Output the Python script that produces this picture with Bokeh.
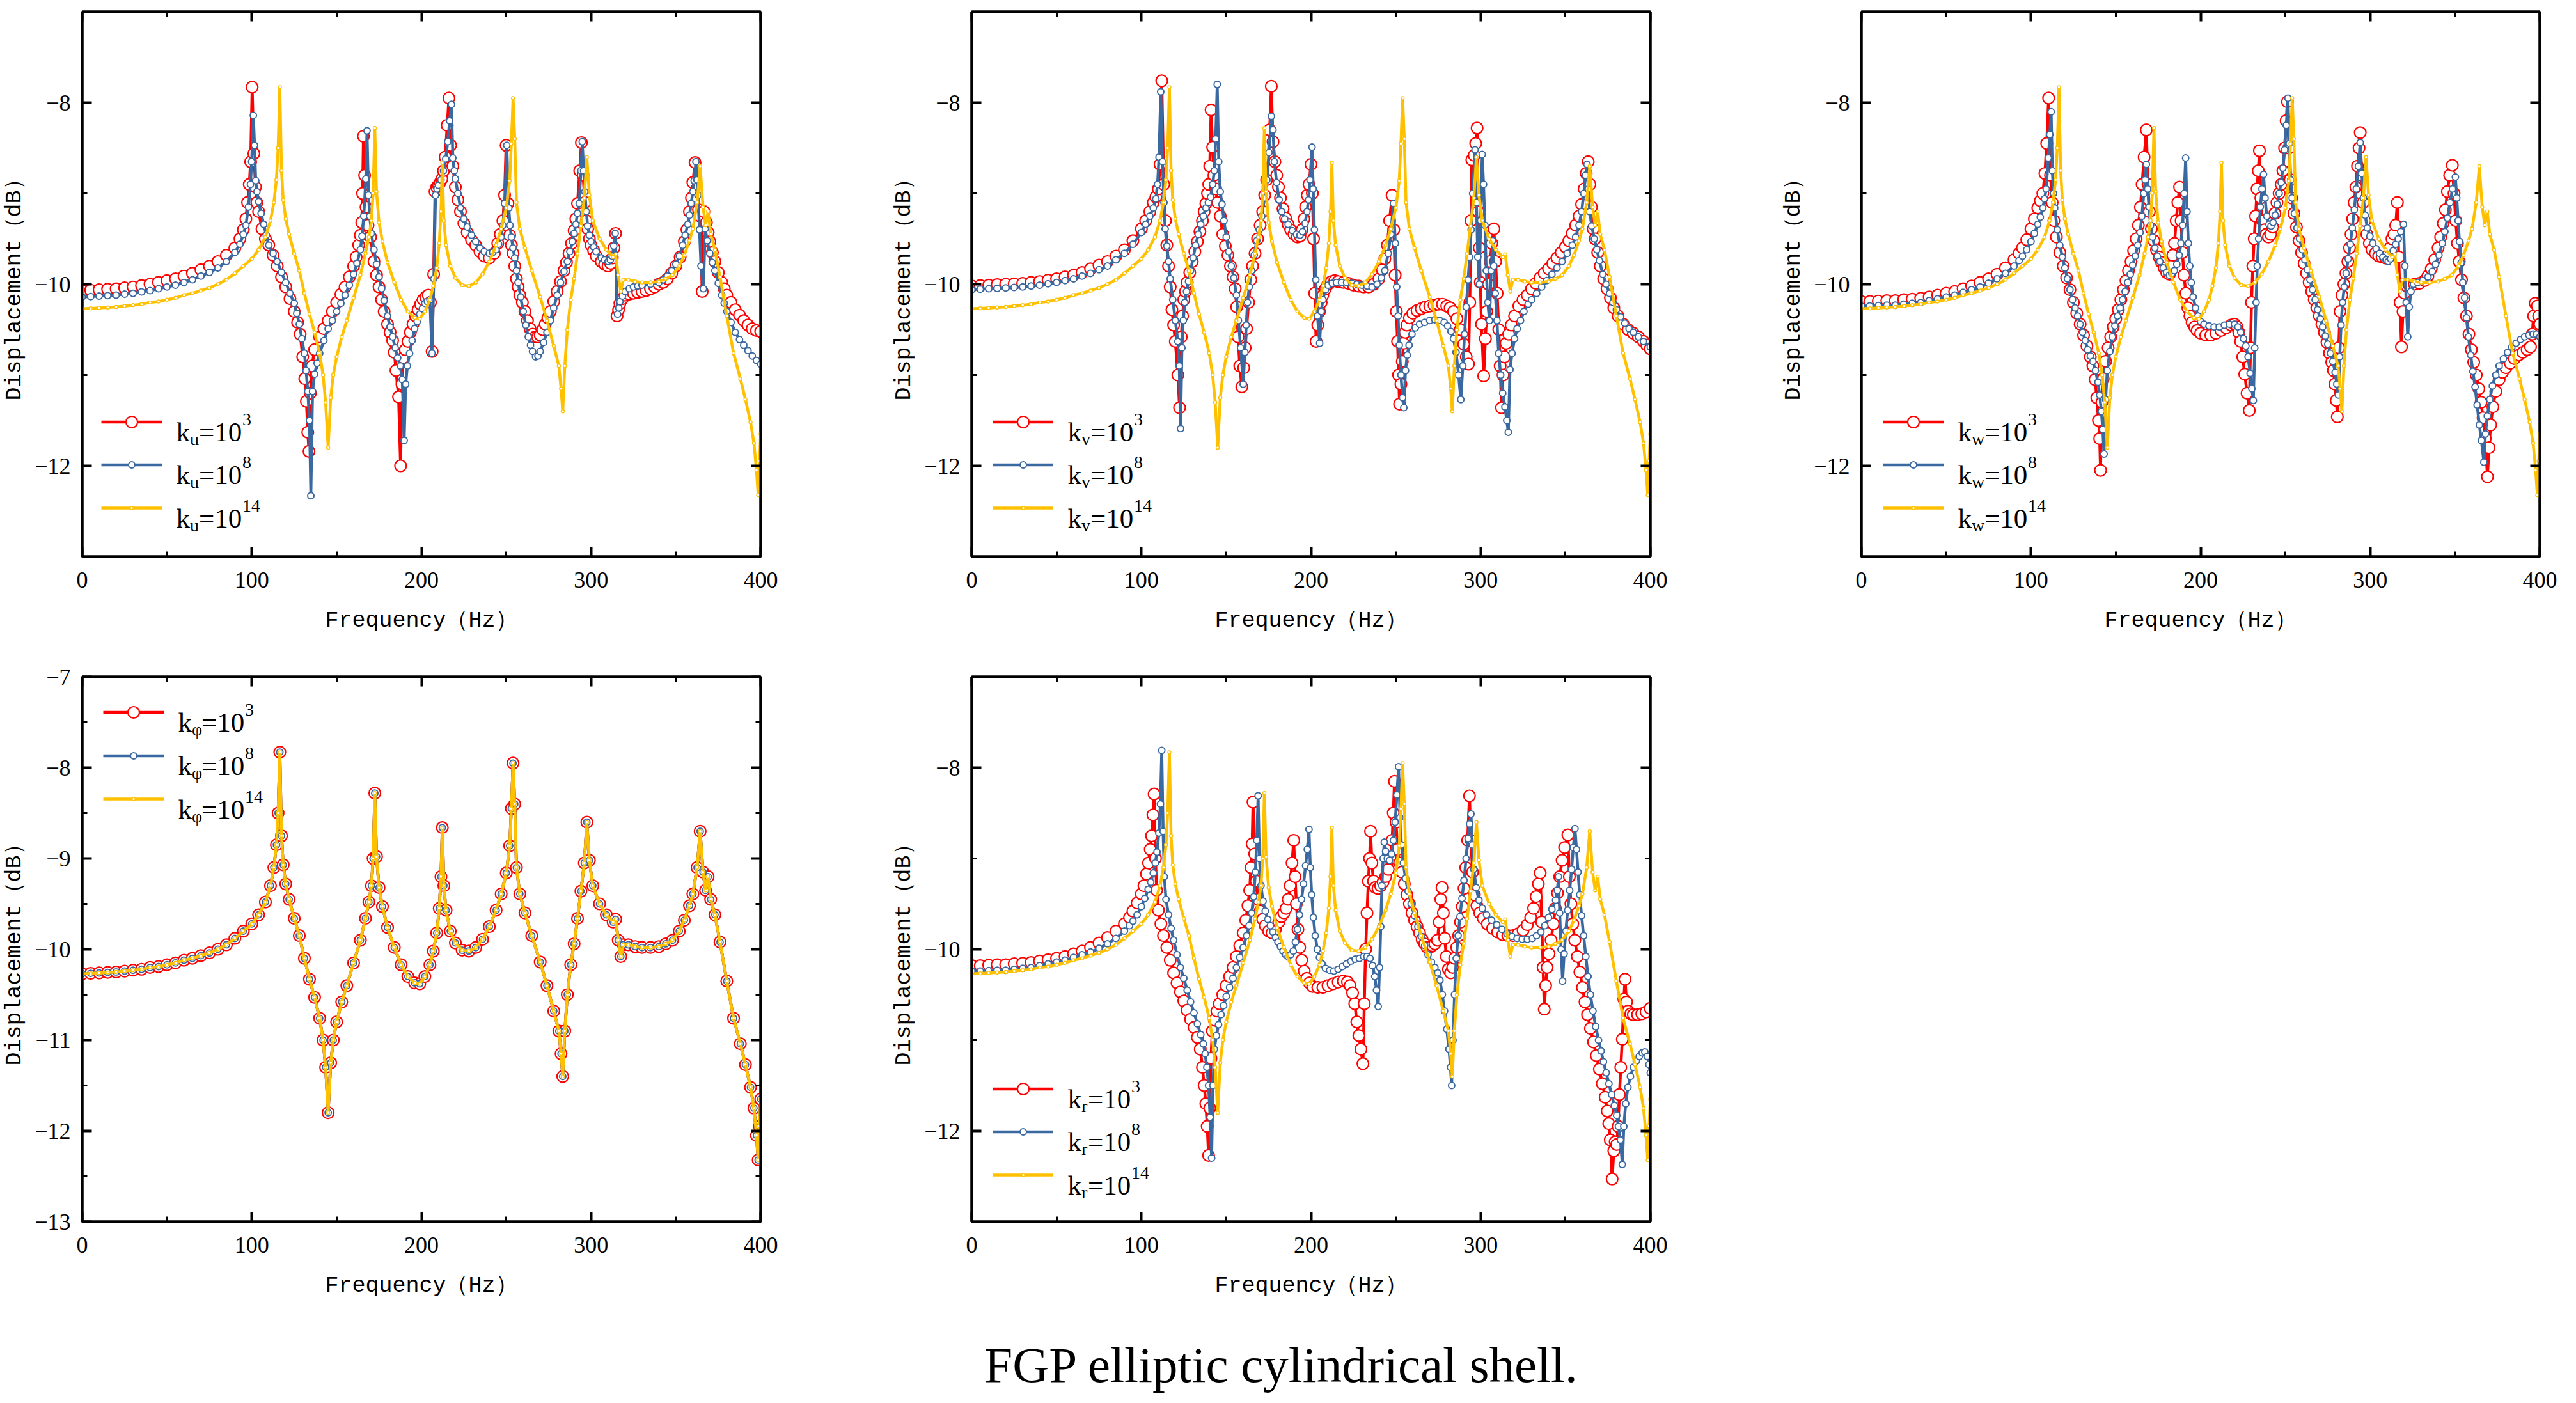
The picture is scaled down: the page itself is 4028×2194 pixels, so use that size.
from bokeh.plotting import figure
from bokeh.models import (Range1d, LinearAxis, SingleIntervalTicker, CustomJSTickFormatter,
                          Legend, LegendItem, Label)
from bokeh.layouts import column, row
from bokeh.embed import file_html
from bokeh.resources import INLINE

RED = "#FF0000"
BLUE = "#3A68A0"
YEL = "#FFC000"

# k = 1e14 (clamped) response, identical in every panel
CLAMP = [(0,-10.27),(5,-10.265),(10,-10.26),(15,-10.255),(20,-10.25),(25,-10.24),(30,-10.23),(35,-10.22),
         (40,-10.2),(45,-10.19),(50,-10.17),(55,-10.15),(60,-10.12),(65,-10.1),(70,-10.07),(75,-10.04),
         (80,-10.0),(85,-9.95),(90,-9.88),(95,-9.8),(100,-9.72),(104,-9.62),(108,-9.48),(111,-9.3),
         (113,-9.1),(114.5,-8.85),(115.5,-8.5),(116.5,-7.83),(117.5,-8.75),(118.5,-9.07),(120,-9.28),
         (122,-9.45),(125,-9.66),(128,-9.85),(131,-10.1),(134,-10.33),(137,-10.53),(140,-10.76),
         (142,-11.0),(143.5,-11.3),(145,-11.8),(146.5,-11.25),(148,-11.0),(150,-10.8),(153,-10.58),
         (156,-10.4),(160,-10.15),(164,-9.9),(167,-9.66),(169,-9.48),(170.5,-9.3),(171.5,-9.0),
         (172.5,-8.28),(173.5,-8.98),(175,-9.32),(177,-9.53),(180,-9.76),(184,-9.98),(188,-10.17),
         (192,-10.3),(196,-10.37),(199,-10.38),(202,-10.3),(205,-10.17),(207,-10.02),(209,-9.82),
         (210.5,-9.55),(211.5,-9.2),(212.3,-8.66),(213.2,-9.3),(214.5,-9.57),(217,-9.8),(220,-9.93),
         (224,-10.01),(228,-10.02),(232,-9.98),(236,-9.89),(240,-9.75),(244,-9.57),(247,-9.39),
         (250,-9.16),(252,-8.86),(253,-8.45),(254,-7.95),(255,-8.4),(256,-9.1),(258,-9.39),(261,-9.6),
         (265,-9.85),(270,-10.14),(274,-10.4),(278,-10.68),(281,-10.9),(282.3,-11.15),(283.3,-11.4),
         (284.5,-10.9),(286,-10.5),(288,-10.17),(290,-9.94),(292,-9.66),(294,-9.36),(296,-9.05),
         (297.5,-8.6),(299,-9.02),(301,-9.3),(305,-9.5),(309,-9.62),(313,-9.7),(314.5,-9.67),
         (316,-9.9),(317.5,-10.08),(319,-9.95),(322,-9.95),(326,-9.97),(330,-9.98),(335,-9.98),
         (340,-9.97),(344,-9.94),(348,-9.9),(352,-9.8),(355,-9.68),(358,-9.52),(360,-9.39),
         (362.5,-9.1),(364.3,-8.7),(366,-9.15),(367.5,-9.35),(369,-9.2),(370.5,-9.45),(373,-9.62),
         (376,-9.92),(380,-10.35),(384,-10.76),(388,-11.04),(391,-11.27),(394,-11.52),(396,-11.75),
         (397.5,-12.05),(398.5,-12.32),(399.3,-11.95),(400,-11.65)]

U_RED = [(0,-10.07),(5,-10.065),(10,-10.06),(15,-10.055),(20,-10.05),(25,-10.04),(30,-10.03),(35,-10.015),
         (40,-10.0),(45,-9.98),(50,-9.96),(55,-9.94),(60,-9.91),(65,-9.88),(70,-9.84),(75,-9.8),(80,-9.75),
         (85,-9.68),(90,-9.6),(93,-9.5),(95,-9.4),(96.5,-9.28),(97.5,-9.1),(98.5,-8.9),(99.3,-8.65),
         (100.2,-7.83),(101.2,-8.56),(102.2,-8.93),(103,-9.1),(104,-9.2),(106,-9.39),(108,-9.5),(110,-9.57),
         (112.5,-9.68),(115,-9.8),(117.5,-9.92),(120,-10.03),(122.5,-10.16),(125,-10.3),(127,-10.42),
         (128.5,-10.55),(130,-10.8),(131.2,-11.04),(132.2,-11.29),(133,-11.63),(133.7,-11.84),(134.5,-11.2),
         (135.5,-10.9),(137,-10.72),(140,-10.58),(142.5,-10.49),(145,-10.4),(147.5,-10.3),(150,-10.2),
         (152.5,-10.11),(155,-10.03),(157.5,-9.92),(160,-9.8),(161.5,-9.7),(163,-9.57),(164,-9.46),
         (164.8,-9.32),(165.3,-9.0),(165.8,-8.37),(166.5,-8.8),(167.3,-9.15),(168.5,-9.35),(170,-9.48),
         (172,-9.75),(173.5,-9.9),(175,-10.03),(176.5,-10.17),(178,-10.3),(180,-10.44),(181.5,-10.53),
         (183,-10.62),(184,-10.75),(185,-10.95),(186.5,-11.24),(187.7,-12.0),(188.5,-11.1),(189.3,-10.81),
         (190.5,-10.72),(192,-10.63),(193.5,-10.53),(195,-10.44),(196.5,-10.35),(198,-10.28),(199.5,-10.22),
         (201,-10.17),(202.5,-10.14),(204,-10.12),(205.3,-10.2),(206.3,-10.74),(207.2,-9.89),(208,-8.98),
         (209,-8.93),(210,-8.91),(211,-8.88),(212,-8.84),(213,-8.75),(214,-8.6),(215.2,-8.25),(216.2,-7.95),
         (217.2,-8.47),(218.5,-8.7),(220,-8.93),(221.5,-9.07),(223,-9.2),(225,-9.33),(227,-9.43),
         (229.5,-9.51),(232,-9.57),(234.5,-9.64),(237,-9.69),(240,-9.71),(243,-9.66),(245,-9.55),
         (246.5,-9.45),(248,-9.3),(249,-9.02),(249.9,-8.47),(251,-9.11),(252,-9.46),(253,-9.57),(254,-9.66),
         (255,-9.8),(256,-9.94),(257,-10.03),(258,-10.12),(259.5,-10.2),(261,-10.3),(262.5,-10.4),
         (264,-10.49),(265.5,-10.55),(267,-10.58),(268.5,-10.58),(270,-10.56),(271.5,-10.5),(273,-10.44),
         (274.5,-10.37),(276,-10.3),(278,-10.19),(280,-10.08),(282,-9.97),(284,-9.85),(285.5,-9.76),
         (287,-9.66),(288.5,-9.55),(290,-9.41),(291,-9.28),(292,-9.11),(293.3,-8.75),(294.3,-8.44),
         (295.3,-8.8),(296.3,-9.1),(297.2,-9.3),(298,-9.39),(299,-9.5),(300,-9.57),(301.5,-9.63),
         (303,-9.69),(306,-9.75),(308,-9.78),(310,-9.8),(311.5,-9.77),(312.5,-9.71),(313.5,-9.6),
         (314.4,-9.44),(315.3,-10.35),(316.2,-10.28),(317,-10.21),(318.5,-10.16),(320,-10.12),
         (322.5,-10.11),(325,-10.1),(327.5,-10.09),(330,-10.08),(332.5,-10.07),(335,-10.05),
         (337.5,-10.03),(340,-10.0),(342.5,-9.98),(345,-9.94),(347.5,-9.88),(350,-9.8),(352.5,-9.7),
         (355,-9.53),(356.5,-9.4),(358,-9.2),(359.2,-9.05),(360,-8.88),(361.3,-8.66),(362.3,-8.95),
         (363.3,-9.18),(364.3,-9.25),(365.5,-10.08),(366.5,-9.2),(368,-9.32),(369,-9.43),(370,-9.53),
         (371.5,-9.65),(373,-9.75),(375,-9.87),(377,-9.98),(378.5,-10.05),(380,-10.12),(382.5,-10.2),
         (385,-10.28),(387.5,-10.34),(390,-10.4),(392.5,-10.45),(395,-10.49),(397.5,-10.51),(400,-10.52)]

U_BLUE = [(0,-10.14),(5,-10.135),(10,-10.13),(15,-10.125),(20,-10.12),(25,-10.11),(30,-10.1),(35,-10.085),
          (40,-10.07),(45,-10.05),(50,-10.03),(55,-10.01),(60,-9.98),(65,-9.95),(70,-9.91),(75,-9.87),
          (80,-9.82),(85,-9.75),(90,-9.65),(93,-9.56),(95,-9.45),(96.5,-9.35),(98,-9.15),(99.2,-8.9),
          (99.9,-8.65),(100.9,-8.14),(101.6,-8.47),(102.3,-8.86),(103,-8.98),(104,-9.09),(105.5,-9.22),
          (107,-9.34),(108.5,-9.46),(110,-9.57),(112.5,-9.66),(115,-9.75),(117.5,-9.87),(120,-9.98),
          (122.5,-10.1),(125,-10.21),(126.5,-10.32),(128,-10.44),(129.5,-10.6),(131,-10.76),(132,-10.95),
          (133,-11.18),(134,-11.5),(134.8,-12.33),(135.8,-11.18),(137,-10.99),(138.5,-10.87),(140,-10.76),
          (142.5,-10.62),(145,-10.49),(147.5,-10.4),(150,-10.3),(152.5,-10.21),(155,-10.12),(157.5,-10.01),
          (160,-9.89),(162,-9.77),(164,-9.62),(165,-9.47),(166,-9.25),(167.2,-8.84),(167.9,-8.31),
          (168.8,-9.02),(169.5,-9.25),(170.5,-9.44),(172,-9.62),(173.5,-9.78),(175,-9.92),(176.5,-10.05),
          (178,-10.18),(180,-10.35),(181.5,-10.47),(183,-10.58),(184.5,-10.7),(186,-10.81),(187.5,-10.9),
          (188.7,-11.05),(189.8,-11.72),(190.7,-11.1),(191.7,-10.9),(193,-10.76),(194.5,-10.62),
          (196,-10.49),(197.5,-10.41),(199,-10.33),(200.5,-10.27),(202,-10.21),(203.5,-10.19),(205,-10.17),
          (206.2,-10.76),(207.3,-9.94),(208.3,-9.02),(209.2,-8.95),(210,-8.91),(211.5,-8.85),(213,-8.75),
          (214.3,-8.62),(215.5,-8.43),(216.6,-8.2),(217.7,-8.02),(218.5,-8.61),(219.3,-8.75),(220,-8.84),
          (221.5,-9.0),(223,-9.16),(225,-9.28),(227,-9.37),(229.5,-9.46),(232,-9.53),(234.5,-9.6),
          (237,-9.64),(240,-9.66),(242,-9.65),(244,-9.62),(245.5,-9.56),(247,-9.48),(248,-9.35),(249,-9.11),
          (250.3,-8.47),(251.5,-9.16),(252.2,-9.35),(253,-9.48),(254,-9.6),(255,-9.71),(256,-9.85),
          (257,-9.98),(258.5,-10.14),(260,-10.3),(261.5,-10.45),(263,-10.58),(264.3,-10.67),(265.5,-10.74),
          (267.3,-10.8),(268.7,-10.79),(270,-10.74),(272,-10.64),(274,-10.53),(276,-10.4),(278,-10.26),
          (280,-10.12),(282,-9.98),(284,-9.86),(286,-9.75),(287.5,-9.64),(289,-9.53),(290,-9.44),
          (291,-9.34),(292,-9.22),(293,-9.11),(294,-8.75),(294.8,-8.43),(295.6,-8.75),(296.3,-8.98),
          (297.2,-9.2),(298,-9.36),(299,-9.46),(300,-9.53),(301.5,-9.59),(303,-9.64),(306,-9.71),
          (308,-9.73),(310,-9.75),(311.3,-9.73),(312.5,-9.69),(313.4,-9.58),(314.2,-9.44),(315.6,-10.33),
          (316.3,-10.26),(317,-10.19),(318.5,-10.13),(320,-10.08),(322.5,-10.05),(325,-10.03),
          (327.5,-10.02),(330,-10.01),(335,-10.0),(340,-9.98),(342.5,-9.95),(345,-9.91),(347.5,-9.85),
          (350,-9.78),(352,-9.69),(354,-9.57),(355.5,-9.46),(357,-9.34),(358,-9.24),(359,-9.11),(360,-8.98),
          (360.8,-8.86),(361.8,-8.65),(362.4,-8.85),(363,-9.02),(363.9,-9.4),(364.8,-9.8),(366.2,-10.05),
          (367.3,-9.39),(368.5,-9.52),(370,-9.66),(371.5,-9.76),(373,-9.85),(375,-9.99),(377,-10.12),
          (378.5,-10.21),(380,-10.3),(382.5,-10.42),(385,-10.53),(387.5,-10.61),(390,-10.67),
          (392.5,-10.73),(395,-10.79),(397.5,-10.84),(400,-10.88)]

V_RED = [(0,-10.02),(5,-10.015),(10,-10.01),(15,-10.005),(20,-10.0),(25,-9.995),(30,-9.99),(35,-9.98),
         (40,-9.97),(45,-9.955),(50,-9.94),(55,-9.92),(60,-9.9),(65,-9.87),(70,-9.83),(75,-9.79),(80,-9.75),
         (85,-9.69),(90,-9.62),(95,-9.52),(100,-9.39),(102.5,-9.3),(105,-9.2),(107,-9.1),(108.5,-9.04),
         (110,-8.95),(111,-8.68),(112,-7.76),(113.2,-8.9),(114.2,-9.3),(115,-9.57),(116,-9.8),(117,-10.03),
         (118,-10.28),(119,-10.45),(120,-10.63),(121.5,-11.0),(122.5,-11.36),(123.5,-10.58),(124.3,-10.35),
         (125,-10.17),(126,-10.08),(127,-9.98),(128.5,-9.87),(130,-9.75),(131.5,-9.64),(133,-9.53),
         (134.5,-9.42),(136,-9.3),(137,-9.2),(138,-9.11),(139,-9.0),(139.7,-8.9),(140.3,-8.7),(141.1,-8.08),
         (142,-8.49),(142.8,-8.8),(143.8,-8.95),(145,-9.1),(146.5,-9.25),(148,-9.45),(149.5,-9.58),
         (151,-9.68),(152.5,-9.8),(154,-9.92),(155.3,-10.05),(156.2,-10.25),(157,-10.58),(158,-10.9),
         (159.2,-11.13),(160.3,-10.92),(161.2,-10.7),(162,-10.49),(163.2,-10.2),(164.5,-9.95),(165.5,-9.8),
         (167,-9.66),(168.5,-9.5),(170,-9.35),(171.5,-9.2),(172.7,-9.02),(173.8,-8.85),(174.8,-8.6),
         (175.6,-8.3),(176.6,-7.82),(177.6,-8.43),(178.7,-8.65),(179.8,-8.8),(180.8,-8.93),(182,-9.05),
         (183.5,-9.17),(185,-9.27),(186.5,-9.34),(188,-9.4),(190,-9.45),(192,-9.48),(193.5,-9.47),
         (194.7,-9.4),(195.8,-9.28),(196.8,-9.15),(197.8,-9.02),(198.8,-8.9),(200,-8.68),(200.8,-9.0),
         (201.5,-9.5),(202.2,-10.1),(203,-10.63),(204,-10.45),(205,-10.3),(206,-10.2),(207,-10.12),
         (208.5,-10.05),(210,-10.0),(212,-9.97),(214,-9.96),(216,-9.97),(219,-9.98),(222,-9.99),
         (225,-10.01),(228,-10.02),(231,-10.03),(234,-10.03),(237,-10.0),(240,-9.94),(242,-9.84),
         (243.5,-9.72),(245,-9.57),(246.3,-9.3),(247.8,-9.02),(248.8,-9.4),(249.6,-9.9),(250.3,-10.3),
         (251,-10.63),(251.6,-11.0),(252.2,-11.32),(253,-11.1),(253.8,-10.85),(254.5,-10.65),
         (255.5,-10.53),(256.5,-10.45),(258,-10.37),(260,-10.32),(262.5,-10.29),(265,-10.27),
         (267.5,-10.25),(270,-10.24),(272.5,-10.23),(275,-10.22),(277.5,-10.22),(280,-10.24),
         (282,-10.26),(284,-10.3),(286,-10.38),(288,-10.5),(290,-10.66),(291.5,-10.8),(292.8,-10.88),
         (293.6,-10.2),(294.3,-9.3),(294.8,-8.63),(296.2,-8.58),(297.1,-8.45),(297.9,-8.28),(298.6,-9.2),
         (299.2,-9.6),(299.8,-9.98),(300.5,-10.44),(301.8,-11.01),(302.8,-10.6),(303.6,-10.3),
         (304.6,-10.0),(305.6,-9.75),(306.6,-9.55),(307.8,-9.39),(308.8,-9.75),(309.7,-10.1),
         (310.7,-10.5),(311.5,-10.9),(312.3,-11.36),(313.2,-11.0),(314,-10.8),(315,-10.65),(316.5,-10.55),
         (318,-10.45),(320,-10.35),(322.5,-10.24),(325,-10.17),(327.5,-10.12),(330,-10.05),(332.5,-9.99),
         (335,-9.93),(337.5,-9.88),(340,-9.83),(342.5,-9.77),(345,-9.71),(347.5,-9.65),(350,-9.59),
         (352,-9.52),(354,-9.44),(356,-9.35),(358,-9.25),(359.5,-9.12),(361,-8.95),(362.2,-8.78),
         (363.4,-8.65),(364.4,-8.9),(365.3,-9.15),(366.3,-9.39),(367.5,-9.5),(369,-9.65),(370.5,-9.8),
         (372.5,-9.94),(374.5,-10.05),(376.5,-10.15),(378.5,-10.26),(381,-10.35),(384,-10.44),
         (387,-10.5),(390,-10.54),(393,-10.58),(396,-10.63),(398,-10.67),(400,-10.71)]

V_BLUE = [(0,-10.06),(5,-10.055),(10,-10.05),(15,-10.045),(20,-10.04),(25,-10.035),(30,-10.03),(35,-10.02),
          (40,-10.01),(45,-9.995),(50,-9.98),(55,-9.96),(60,-9.94),(65,-9.91),(70,-9.88),(75,-9.84),
          (80,-9.8),(85,-9.73),(90,-9.66),(95,-9.56),(100,-9.43),(102.5,-9.34),(105,-9.25),(107,-9.16),
          (108.5,-9.06),(109.5,-8.9),(110.4,-8.6),(111.4,-7.88),(112.4,-8.65),(113.3,-9.1),(114,-9.39),
          (115,-9.58),(116,-9.75),(117,-9.94),(118.5,-10.17),(120,-10.4),(121.5,-10.63),(122.3,-10.9),
          (123.1,-11.59),(123.9,-10.7),(124.7,-10.4),(125.6,-10.2),(126.6,-10.08),(127.8,-9.97),
          (129,-9.85),(130.5,-9.71),(132,-9.57),(133.5,-9.45),(135,-9.34),(136.5,-9.25),(138,-9.16),
          (139.5,-9.1),(140.8,-9.04),(142,-8.9),(143,-8.75),(143.8,-8.4),(144.7,-7.8),(145.6,-8.65),
          (146.5,-8.98),(147.5,-9.12),(148.7,-9.3),(150,-9.48),(151.5,-9.64),(153,-9.8),(154.5,-9.93),
          (156,-10.12),(157.2,-10.4),(158.5,-10.7),(160,-11.1),(161,-10.75),(161.8,-10.45),(162.6,-10.2),
          (163.6,-10.03),(165,-9.85),(166.5,-9.68),(168,-9.52),(169.5,-9.4),(171,-9.25),(172.5,-9.05),
          (174,-8.85),(175.2,-8.55),(176.6,-8.15),(177.6,-8.3),(178.4,-8.65),(179.7,-8.88),(181.2,-9.07),
          (182.7,-9.2),(184.5,-9.28),(186.5,-9.34),(189,-9.41),(191.5,-9.45),(193.5,-9.46),(195,-9.42),
          (196.5,-9.33),(197.6,-9.2),(198.5,-9.07),(199.4,-8.85),(200.6,-8.49),(201.3,-8.95),(202,-9.4),
          (202.8,-9.95),(203.8,-10.35),(205.1,-10.65),(206,-10.3),(207,-10.17),(208.5,-10.06),(210,-10.01),
          (212.5,-9.99),(215,-9.98),(218,-9.98),(221,-9.98),(224,-9.99),(227,-10.0),(230,-10.01),
          (233,-10.02),(236,-10.03),(239,-10.0),(241.5,-9.93),(243.5,-9.85),(245.5,-9.66),(247,-9.45),
          (248.6,-9.11),(249.7,-9.55),(250.5,-10.03),(251.3,-10.35),(252,-10.67),(253,-11.0),(254,-11.25),
          (254.7,-11.36),(255.7,-10.95),(256.7,-10.78),(257.8,-10.67),(259.5,-10.55),(261.5,-10.48),
          (264,-10.44),(267,-10.42),(270,-10.4),(273,-10.39),(276,-10.4),(278.5,-10.42),(280.5,-10.46),
          (282.5,-10.52),(284,-10.6),(285.5,-10.75),(287,-11.0),(288.3,-11.27),(289.5,-10.9),
          (290.5,-10.55),(291.5,-10.25),(292.6,-9.95),(293.5,-9.7),(294.4,-9.4),(295.3,-9.0),(296.7,-8.52),
          (297.5,-9.1),(298.3,-9.7),(299.2,-10.0),(300,-9.3),(300.9,-8.57),(301.7,-8.9),(302.5,-9.35),
          (303.3,-9.85),(304.2,-10.2),(305.2,-10.4),(306.2,-9.85),(307,-9.52),(307.8,-9.8),(308.6,-10.1),
          (309.6,-10.4),(310.6,-10.76),(311.8,-11.0),(313,-11.2),(314.3,-11.35),(315.4,-11.5),
          (316.3,-11.63),(317.3,-10.94),(318.5,-10.76),(320,-10.6),(321.5,-10.49),(323.5,-10.4),
          (325.5,-10.3),(328,-10.22),(330,-10.17),(333,-10.1),(336,-10.03),(339,-9.96),(342,-9.89),
          (345,-9.82),(348,-9.75),(351,-9.66),(354,-9.57),(356,-9.48),(358,-9.35),(359.5,-9.2),(360.8,-9.0),
          (361.8,-8.8),(362.7,-8.68),(363.5,-8.95),(364.3,-9.2),(365.5,-9.36),(367,-9.5),(368.5,-9.62),
          (370,-9.74),(372,-9.89),(374,-10.0),(376,-10.1),(378,-10.2),(380,-10.28),(382.5,-10.36),
          (385,-10.43),(387.5,-10.49),(390,-10.53),(393,-10.58),(396,-10.63),(400,-10.69)]

W_RED = [(0,-10.19),(5,-10.19),(10,-10.185),(15,-10.18),(20,-10.18),(25,-10.17),(30,-10.165),(35,-10.155),
         (40,-10.14),(45,-10.12),(50,-10.1),(55,-10.08),(60,-10.05),(65,-10.02),(70,-9.98),(75,-9.94),
         (80,-9.89),(85,-9.82),(90,-9.73),(93,-9.66),(95,-9.6),(97.5,-9.51),(100,-9.39),(102,-9.28),
         (104,-9.16),(105.5,-9.08),(107,-9.0),(108.2,-8.78),(109.3,-8.45),(110.4,-7.95),(111.5,-8.8),
         (112.5,-9.1),(113.5,-9.3),(115,-9.48),(117,-9.65),(119,-9.8),(121,-9.93),(123,-10.06),(125,-10.2),
         (127,-10.32),(129,-10.44),(131,-10.56),(133,-10.68),(135,-10.8),(136.5,-10.9),(137.8,-11.05),
         (138.8,-11.25),(139.8,-11.5),(140.5,-11.7),(141,-12.05),(141.8,-11.3),(142.6,-11.04),(144,-10.85),
         (145.5,-10.7),(147,-10.58),(148.5,-10.47),(150,-10.38),(151.5,-10.28),(153,-10.17),(154.5,-10.06),
         (156,-9.96),(157.5,-9.85),(159,-9.75),(160.5,-9.63),(162,-9.5),(163.3,-9.35),(164.5,-9.15),
         (165.5,-8.9),(166.7,-8.6),(168,-8.3),(169,-8.9),(169.8,-9.2),(171,-9.39),(172.5,-9.52),(174,-9.62),
         (175.5,-9.7),(177,-9.76),(178.5,-9.82),(180,-9.87),(181.6,-9.89),(182.7,-9.8),(183.6,-9.68),
         (184.6,-9.55),(185.6,-9.3),(186.6,-9.1),(187.6,-8.93),(188.5,-9.3),(189.3,-9.65),(190.2,-9.9),
         (191.3,-10.1),(192.5,-10.26),(193.7,-10.35),(195,-10.42),(196.5,-10.47),(198,-10.51),(200,-10.54),
         (203,-10.56),(206,-10.56),(209,-10.54),(212,-10.51),(215,-10.48),(218,-10.45),(220,-10.44),
         (221.5,-10.47),(222.5,-10.53),(223.6,-10.63),(224.8,-10.8),(226,-10.99),(227.4,-11.2),
         (228.7,-11.39),(229.4,-10.7),(230,-10.2),(230.8,-9.8),(231.6,-9.5),(232.4,-9.25),(233.3,-8.95),
         (234,-8.75),(234.7,-8.53),(235.5,-9.05),(236.4,-9.3),(237.5,-9.4),(238.7,-9.45),(240,-9.48),
         (241.3,-9.45),(242.5,-9.37),(243.8,-9.22),(245,-9.1),(246.3,-9.0),(247.5,-8.9),(248.5,-8.75),
         (249.5,-8.5),(250.4,-8.2),(251.2,-7.99),(252,-8.5),(252.8,-8.85),(253.7,-9.05),(255,-9.22),
         (256.5,-9.37),(258,-9.52),(259.5,-9.65),(261,-9.77),(262.5,-9.88),(264,-9.98),(265.5,-10.08),
         (267,-10.17),(268.5,-10.26),(270,-10.35),(271.5,-10.44),(273,-10.53),(274.5,-10.64),(276,-10.76),
         (277.3,-10.86),(278.3,-10.95),(279.2,-11.1),(280,-11.28),(280.6,-11.46),(281.4,-10.7),
         (282.2,-10.3),(283.3,-10.12),(284.5,-10.0),(285.7,-9.88),(286.8,-9.75),(287.8,-9.6),(288.7,-9.45),
         (289.6,-9.28),(290.5,-9.1),(291.5,-8.93),(292.5,-8.7),(293.4,-8.5),(294.1,-8.33),(294.9,-8.8),
         (295.8,-9.1),(296.8,-9.3),(298,-9.45),(299.5,-9.55),(301,-9.62),(303,-9.66),(305,-9.69),(307,-9.7),
         (309,-9.71),(310.5,-9.68),(311.7,-9.6),(312.8,-9.5),(314,-9.45),(315,-9.35),(316,-9.1),
         (316.8,-9.7),(317.6,-10.2),(318.4,-10.69),(319.3,-10.3),(320.2,-10.1),(321.5,-10.02),(323,-10.01),
         (326,-10.0),(329,-9.99),(332,-9.96),(334,-9.91),(336,-9.83),(338,-9.73),(340,-9.6),(341.5,-9.48),
         (343,-9.33),(344.3,-9.18),(345.5,-8.98),(346.8,-8.8),(348.4,-8.69),(349.4,-9.0),(350.4,-9.3),
         (351.4,-9.55),(352.5,-9.75),(353.8,-9.95),(355.2,-10.15),(356.7,-10.35),(358.2,-10.55),
         (359.6,-10.72),(361,-10.86),(362.5,-11.0),(364,-11.15),(365.3,-11.3),(366.5,-11.47),(367.8,-11.7),
         (369.1,-12.12),(370,-11.8),(371,-11.55),(372.3,-11.35),(374,-11.18),(376,-11.05),(378,-10.97),
         (380,-10.92),(382.5,-10.87),(385,-10.82),(387.5,-10.78),(390,-10.75),(392.5,-10.72),
         (394.5,-10.69),(395.5,-10.55),(396.3,-10.35),(397.2,-10.21),(398.5,-10.24),(399.3,-10.35),
         (400,-10.44)]

W_BLUE = [(0,-10.24),(5,-10.24),(10,-10.235),(15,-10.23),(20,-10.23),(25,-10.22),(30,-10.21),(35,-10.2),
          (40,-10.18),(45,-10.16),(50,-10.14),(55,-10.12),(60,-10.09),(65,-10.06),(70,-10.03),(75,-9.99),
          (80,-9.94),(85,-9.88),(90,-9.8),(93,-9.74),(95,-9.69),(97.5,-9.62),(100,-9.53),(102,-9.44),
          (104,-9.34),(105.5,-9.26),(107,-9.16),(108,-9.06),(109,-8.95),(110.2,-8.61),(111.1,-8.35),
          (111.9,-8.1),(112.6,-8.75),(113.3,-9.0),(114,-9.16),(115.5,-9.4),(117,-9.57),(118.5,-9.7),
          (120,-9.82),(121.5,-9.94),(123,-10.06),(124.5,-10.17),(126,-10.26),(127.5,-10.35),(129,-10.44),
          (130.5,-10.53),(132,-10.62),(133.5,-10.72),(135,-10.79),(136.5,-10.85),(138,-10.95),
          (139.5,-11.08),(140.5,-11.22),(141.5,-11.4),(142.3,-11.6),(143.1,-11.87),(144,-11.27),
          (145,-10.95),(146.5,-10.74),(148,-10.58),(149.5,-10.46),(151,-10.35),(152.5,-10.26),(154,-10.17),
          (155.5,-10.08),(157,-9.98),(158.5,-9.89),(160,-9.79),(161.5,-9.69),(163,-9.57),(164.3,-9.43),
          (165.4,-9.25),(166.5,-9.0),(167.3,-8.85),(168,-8.68),(168.8,-8.95),(169.6,-9.15),(170.5,-9.35),
          (171.7,-9.48),(173,-9.6),(174.5,-9.69),(176,-9.75),(178,-9.82),(180,-9.87),(181.6,-9.9),
          (183,-9.88),(184.5,-9.85),(186,-9.78),(187.4,-9.68),(188.4,-9.55),(189.4,-9.35),(190.3,-9.0),
          (191.2,-8.61),(192,-9.2),(192.8,-9.55),(193.6,-9.8),(194.5,-9.98),(195.6,-10.14),(197,-10.26),
          (198.5,-10.35),(200,-10.41),(202,-10.44),(205,-10.46),(208,-10.47),(211,-10.47),(214,-10.45),
          (217,-10.44),(220,-10.44),(222,-10.47),(223.7,-10.53),(225.3,-10.6),(226.7,-10.68),(228,-10.8),
          (229.2,-10.98),(230.2,-11.15),(231.1,-11.28),(231.9,-10.7),(232.7,-10.2),(233.4,-9.8),
          (234.2,-9.5),(235.2,-9.15),(236.2,-8.95),(237.1,-8.79),(238,-9.05),(239,-9.25),(240.3,-9.34),
          (241.5,-9.36),(242.8,-9.32),(244,-9.24),(245.2,-9.12),(246.3,-9.0),(247.5,-8.88),(248.5,-8.72),
          (249.5,-8.52),(250.5,-8.25),(251.5,-7.95),(252.3,-8.45),(253.1,-8.85),(254,-9.05),(255.3,-9.22),
          (256.8,-9.38),(258.3,-9.5),(260,-9.62),(261.5,-9.73),(263,-9.84),(264.5,-9.95),(266,-10.06),
          (267.5,-10.17),(269,-10.28),(270.5,-10.38),(272,-10.47),(273.5,-10.57),(275,-10.66),
          (276.5,-10.76),(278,-10.85),(279.3,-10.97),(280.3,-11.1),(281.2,-11.22),(282,-10.8),
          (282.8,-10.45),(283.7,-10.2),(284.7,-10.03),(285.8,-9.88),(287,-9.72),(288.2,-9.56),
          (289.4,-9.38),(290.6,-9.18),(291.8,-8.95),(293,-8.7),(294.1,-8.44),(295,-8.78),(296,-9.05),
          (297,-9.24),(298.3,-9.38),(299.8,-9.47),(301.5,-9.55),(303.5,-9.61),(305.5,-9.66),(307.5,-9.7),
          (309.3,-9.73),(310.6,-9.75),(312,-9.72),(313.5,-9.63),(315,-9.56),(316.5,-9.5),(318,-9.42),
          (319.6,-9.34),(320.4,-9.8),(321.2,-10.2),(322.1,-10.58),(323,-10.25),(324,-10.08),(325.5,-10.0),
          (328,-9.98),(331,-9.96),(334,-9.92),(336.5,-9.86),(338.5,-9.78),(340.5,-9.68),(342.5,-9.55),
          (344,-9.42),(345.5,-9.27),(347,-9.1),(348.5,-8.95),(350.2,-8.82),(351,-9.05),(351.8,-9.3),
          (352.6,-9.53),(353.6,-9.76),(354.6,-9.98),(355.6,-10.15),(356.7,-10.37),(357.9,-10.58),
          (359.2,-10.78),(360.5,-10.96),(361.8,-11.13),(363,-11.33),(364.3,-11.55),(365.5,-11.72),
          (367,-11.96),(367.9,-11.65),(369,-11.45),(370.5,-11.27),(372,-11.12),(374,-11.0),(376,-10.9),
          (378.5,-10.82),(381,-10.75),(383.5,-10.69),(386,-10.65),(388.5,-10.61),(391,-10.58),
          (393.5,-10.56),(396,-10.55),(398,-10.55),(400,-10.58)]

R_RED = [(0,-10.18),(5,-10.18),(10,-10.175),(15,-10.17),(20,-10.17),(25,-10.16),(30,-10.155),(35,-10.145),
         (40,-10.13),(45,-10.115),(50,-10.1),(55,-10.08),(60,-10.05),(65,-10.02),(70,-9.98),(75,-9.93),
         (80,-9.87),(85,-9.8),(90,-9.72),(93,-9.65),(95,-9.58),(97.5,-9.49),(100,-9.39),(101.5,-9.3),
         (103,-9.17),(104.2,-9.05),(105.2,-8.9),(106,-8.75),(106.8,-8.52),(107.5,-8.29),(108.3,-9.0),
         (109,-9.35),(110,-9.57),(111.5,-9.72),(113,-9.85),(115,-9.98),(117,-10.12),(119,-10.26),
         (121,-10.37),(123,-10.47),(125,-10.57),(127,-10.67),(129,-10.77),(131,-10.86),(133,-10.97),
         (134.7,-11.1),(136,-11.3),(137,-11.5),(138,-11.7),(138.8,-11.95),(139.6,-12.27),(140.3,-11.75),
         (141,-11.2),(141.8,-10.9),(143,-10.78),(144.5,-10.68),(146,-10.6),(148,-10.5),(150,-10.4),
         (152,-10.3),(154,-10.2),(156,-10.08),(158,-9.96),(160,-9.82),(161.5,-9.68),(162.8,-9.52),
         (163.8,-9.35),(164.6,-9.1),(165.3,-8.84),(165.8,-8.38),(166.8,-8.95),(167.7,-9.25),(168.8,-9.45),
         (170,-9.58),(171.5,-9.67),(173,-9.74),(175,-9.8),(177,-9.82),(179,-9.78),(181,-9.7),(182.5,-9.64),
         (184,-9.6),(185.3,-9.55),(186.5,-9.45),(187.7,-9.3),(188.8,-9.05),(189.8,-8.8),(190.6,-9.2),
         (191.4,-9.5),(192.3,-9.78),(193.3,-9.98),(194.5,-10.12),(196,-10.24),(197.5,-10.32),(199,-10.37),
         (201,-10.41),(204,-10.42),(207,-10.42),(210,-10.4),(213,-10.38),(216,-10.36),(219,-10.35),
         (221.5,-10.36),(223,-10.4),(224.5,-10.48),(225.8,-10.6),(227,-10.8),(228.2,-10.95),(229.4,-11.1),
         (230.6,-11.26),(231.4,-10.6),(232.2,-10.0),(233,-9.6),(233.8,-9.25),(234.5,-9.0),(235.1,-8.7),
         (235.9,-9.05),(236.8,-9.25),(238,-9.32),(239.5,-9.33),(241,-9.3),(242.5,-9.26),(244,-9.2),
         (245.5,-9.12),(246.8,-9.0),(247.8,-8.8),(248.5,-8.5),(249.2,-8.15),(250.1,-8.6),(251,-8.9),
         (252.2,-9.05),(253.6,-9.15),(255,-9.28),(256.5,-9.4),(258,-9.5),(259.5,-9.6),(261,-9.68),
         (262.5,-9.75),(264,-9.82),(265.5,-9.89),(267,-9.94),(268.5,-9.98),(270,-9.98),(271.5,-9.96),
         (273,-9.94),(274.5,-9.9),(275.6,-9.7),(276.5,-9.45),(277.2,-9.32),(278,-9.6),(278.8,-9.88),
         (279.8,-10.08),(281,-10.22),(282.3,-10.26),(283.5,-10.2),(284.7,-10.1),(285.9,-9.98),(287,-9.85),
         (288.1,-9.7),(289.2,-9.53),(290.2,-9.33),(291.2,-9.1),(292.3,-8.8),(293.4,-8.31),(294.3,-8.8),
         (295.2,-9.15),(296.3,-9.4),(297.8,-9.52),(299.5,-9.6),(301.5,-9.66),(304,-9.72),(307,-9.77),
         (310,-9.81),(313,-9.84),(316,-9.85),(319,-9.85),(322,-9.83),(325,-9.79),(327.5,-9.73),
         (329.5,-9.65),(331.2,-9.55),(332.7,-9.42),(334,-9.28),(335.1,-9.16),(336,-9.7),(336.8,-10.2),
         (337.5,-10.66),(338.3,-10.4),(339.2,-10.2),(340.3,-10.05),(341.5,-9.9),(342.8,-9.72),(344,-9.55),
         (345.3,-9.38),(346.6,-9.2),(348,-9.02),(349.5,-8.88),(351.4,-8.74),(352.3,-9.2),(353.2,-9.5),
         (354.3,-9.72),(355.5,-9.9),(357,-10.08),(358.5,-10.25),(360,-10.42),(361.5,-10.58),(363,-10.72),
         (364.7,-10.87),(366.5,-11.02),(368.2,-11.17),(370,-11.32),(371.7,-11.48),(373.4,-11.63),
         (374.6,-11.78),(375.5,-11.92),(376.4,-12.1),(377.5,-12.53),(378.5,-12.22),(379.3,-12.12),
         (380.2,-12.15),(381,-11.95),(381.8,-11.6),(382.6,-11.3),(383.5,-10.99),(384.4,-10.55),
         (385.1,-10.33),(386,-10.58),(387,-10.68),(388.5,-10.71),(390,-10.72),(392.5,-10.72),
         (395,-10.71),(397.5,-10.69),(400,-10.65)]

R_BLUE = [(0,-10.24),(5,-10.24),(10,-10.235),(15,-10.23),(20,-10.23),(25,-10.22),(30,-10.21),(35,-10.2),
          (40,-10.18),(45,-10.16),(50,-10.14),(55,-10.12),(60,-10.09),(65,-10.06),(70,-10.03),(75,-9.99),
          (80,-9.94),(85,-9.88),(90,-9.8),(93,-9.74),(95,-9.69),(97.5,-9.62),(100,-9.53),(102,-9.44),
          (104,-9.34),(105.5,-9.26),(107,-9.16),(108.2,-9.05),(109.2,-8.93),(110.3,-8.72),(111.2,-8.4),
          (112,-7.81),(112.8,-8.7),(113.5,-9.2),(114.5,-9.45),(116,-9.62),(117.5,-9.77),(119,-9.9),
          (121,-10.06),(123,-10.2),(125,-10.32),(127,-10.45),(129,-10.58),(131,-10.7),(133,-10.82),
          (135,-10.94),(136.5,-11.04),(137.6,-11.15),(138.6,-11.3),(139.6,-11.5),(140.5,-11.85),
          (141.4,-12.3),(142.2,-11.5),(143,-11.1),(144.2,-10.95),(145.5,-10.83),(147,-10.72),(148.5,-10.62),
          (150,-10.52),(152,-10.42),(154,-10.32),(156,-10.2),(158,-10.09),(160,-9.98),(162,-9.85),
          (163.5,-9.74),(165,-9.6),(166.2,-9.42),(167.2,-9.15),(168,-8.8),(168.8,-8.31),(169.6,-9.0),
          (170.5,-9.3),(171.7,-9.47),(173,-9.58),(174.5,-9.67),(176,-9.74),(177.5,-9.81),(179,-9.87),
          (180.5,-9.92),(182,-9.97),(183.5,-10.02),(185,-10.06),(186.5,-10.08),(188,-10.06),(189.5,-10.02),
          (190.8,-9.92),(192,-9.78),(193.2,-9.62),(194.4,-9.45),(195.6,-9.28),(196.8,-9.08),(197.8,-8.9),
          (198.8,-8.68),(199.6,-9.1),(200.4,-9.4),(201.4,-9.65),(202.5,-9.85),(203.7,-10.0),(205,-10.09),
          (206.5,-10.16),(208.5,-10.21),(211,-10.23),(213.5,-10.24),(216,-10.22),(218.5,-10.19),
          (221,-10.16),(223.5,-10.13),(226,-10.11),(228.5,-10.1),(231,-10.08),(233,-10.08),(234.8,-10.1),
          (236.3,-10.18),(237.6,-10.3),(238.6,-10.45),(239.6,-10.63),(240.4,-10.2),(241.1,-9.75),
          (241.8,-9.3),(242.5,-9.0),(243.2,-8.82),(244,-8.92),(245,-9.0),(246.3,-9.02),(247.5,-8.95),
          (248.6,-8.8),(249.6,-8.6),(250.6,-8.3),(251.6,-7.99),(252.5,-8.55),(253.3,-8.85),(254.4,-9.05),
          (255.7,-9.22),(257.2,-9.36),(259,-9.5),(261,-9.63),(263,-9.75),(265,-9.86),(267,-9.96),
          (269,-10.06),(271,-10.14),(273,-10.2),(274.7,-10.26),(276,-10.34),(277.4,-10.5),(278.7,-10.68),
          (280,-10.88),(281.3,-11.1),(282.2,-11.3),(282.9,-11.5),(283.7,-11.0),(284.6,-10.5),(285.6,-10.1),
          (286.7,-9.85),(287.8,-9.64),(289,-9.44),(290.2,-9.24),(291.4,-9.0),(292.6,-8.78),(293.5,-8.62),
          (294.3,-8.51),(295.1,-8.85),(296,-9.12),(297.3,-9.32),(299,-9.46),(301,-9.55),(303.5,-9.62),
          (306.5,-9.68),(309.5,-9.73),(312.5,-9.78),(315.5,-9.83),(318.5,-9.86),(321.5,-9.88),
          (324.5,-9.89),(327.5,-9.89),(330.5,-9.88),(333,-9.85),(335.5,-9.81),(337.8,-9.74),(340,-9.65),
          (342,-9.56),(344.2,-9.46),(345.2,-9.35),(345.9,-9.2),(346.6,-9.6),(347.4,-10.0),(348.3,-10.35),
          (349.2,-10.05),(350.2,-9.8),(351.3,-9.57),(352.5,-9.35),(353.6,-9.12),(354.6,-8.88),
          (355.6,-8.67),(356.5,-8.9),(357.4,-9.15),(358.4,-9.4),(359.5,-9.63),(360.7,-9.85),(362,-10.08),
          (363.3,-10.3),(364.7,-10.5),(366.2,-10.68),(367.8,-10.85),(369.5,-11.0),(371,-11.12),
          (372.4,-11.24),(374,-11.36),(375.6,-11.48),(377.2,-11.6),(378.8,-11.72),(380.2,-11.83),
          (381.2,-11.95),(382.4,-12.1),(383.5,-12.37),(384.4,-11.95),(385.5,-11.7),(386.8,-11.52),
          (388.3,-11.4),(390,-11.3),(391.8,-11.23),(393.5,-11.18),(395.2,-11.14),(396.8,-11.13),
          (398.2,-11.18),(399.2,-11.27),(400,-11.36)]

SUPERSCRIPTS = ["3", "8", "14"]
X_TICK_STEP = 100
CAPTION = "FGP elliptic cylindrical shell."

FRAME_W = 1061
FRAME_H = 852
B_LEFT = 128
B_TOP = 18
ROW1_H = 1040
ROW2_H = 1022
CAP_H = 116

MINUS_FMT = "return (tick < 0 ? '\u2212' : '') + Math.abs(tick).toFixed(0);"
EMPTY_FMT = "return '';"


def style_axis(ax, labels=True):
    ax.axis_line_width = 4
    ax.axis_line_color = "black"
    ax.major_tick_line_width = 4
    ax.minor_tick_line_width = 3
    ax.major_tick_line_color = "black"
    ax.minor_tick_line_color = "black"
    ax.major_tick_in = 15
    ax.major_tick_out = 0
    ax.minor_tick_in = 8
    ax.minor_tick_out = 0
    if labels:
        ax.major_label_text_font = "Liberation Serif"
        ax.major_label_text_font_size = "36px"
        ax.major_label_text_color = "black"
        ax.axis_label_text_font = "Liberation Mono"
        ax.axis_label_text_font_size = "35px"
        ax.axis_label_text_font_style = "normal"
        ax.axis_label_text_color = "black"
    else:
        ax.formatter = CustomJSTickFormatter(code=EMPTY_FMT)
        ax.major_label_text_font_size = "0px"
        ax.major_label_standoff = 0
        ax.axis_label = None


def make_panel(series, sub, sub_w, rows_y, leg_x, y_interval, width, border_right, fig_h):
    p = figure(width=width, height=fig_h, x_range=Range1d(0, 400), y_range=Range1d(-13, -7),
               output_backend="svg", toolbar_location=None,
               min_border_left=B_LEFT, min_border_right=border_right,
               min_border_top=B_TOP, min_border_bottom=fig_h - B_TOP - FRAME_H,
               background_fill_color="white", border_fill_color="white")
    p.outline_line_color = "black"
    p.outline_line_width = 4
    p.grid.visible = False

    xt = SingleIntervalTicker(interval=X_TICK_STEP, num_minor_ticks=2)
    yt = SingleIntervalTicker(interval=y_interval, num_minor_ticks=2)

    xa = p.xaxis[0]
    xa.ticker = xt
    xa.axis_label = "Frequency（Hz）"
    style_axis(xa)
    xa.major_label_standoff = 24
    xa.axis_label_standoff = 29

    ya = p.yaxis[0]
    ya.ticker = yt
    ya.formatter = CustomJSTickFormatter(code=MINUS_FMT)
    ya.axis_label = "Displacement（dB）"
    style_axis(ya)
    ya.major_label_standoff = 18
    ya.axis_label_standoff = 8

    top = LinearAxis(ticker=xt)
    style_axis(top, labels=False)
    p.add_layout(top, "above")
    right = LinearAxis(ticker=yt)
    style_axis(right, labels=False)
    p.add_layout(right, "right")

    specs = [(RED, 18, 2.2), (BLUE, 10, 2.0), (YEL, 5, 1.4)]
    for i, (data, (col, size, lw)) in enumerate(zip(series, specs)):
        xs = [a for a, b in data]
        ys = [b for a, b in data]
        lr = p.line(xs, ys, line_color=col, line_width=4.5, line_join="round")
        sr = p.scatter(xs, ys, marker="circle", size=size, fill_color="white",
                       line_color=col, line_width=lw)
        gh = size / 0.4
        yc = rows_y[i]
        leg = Legend(items=[LegendItem(label=" ", renderers=[lr, sr])],
                     location=(leg_x, yc - gh / 2), glyph_width=95, glyph_height=int(round(gh)),
                     spacing=0, padding=0, margin=0, border_line_color=None,
                     background_fill_alpha=0, label_text_font_size="1px",
                     label_standoff=0, label_width=0, label_height=0)
        p.add_layout(leg)
        kx = leg_x + 117
        base = yc - 16
        p.add_layout(Label(x=kx, y=base, x_units="screen", y_units="screen", text="k",
                           text_font="Liberation Serif", text_font_size="43px",
                           text_baseline="alphabetic", text_align="left", text_color="black"))
        p.add_layout(Label(x=kx + 21.5, y=base - 11, x_units="screen", y_units="screen", text=sub,
                           text_font="Liberation Serif", text_font_size="28px",
                           text_baseline="alphabetic", text_align="left", text_color="black"))
        ex = kx + 21.5 + sub_w
        p.add_layout(Label(x=ex, y=base, x_units="screen", y_units="screen", text="=10",
                           text_font="Liberation Serif", text_font_size="43px",
                           text_baseline="alphabetic", text_align="left", text_color="black"))
        p.add_layout(Label(x=ex + 68, y=base + 20, x_units="screen", y_units="screen",
                           text=SUPERSCRIPTS[i],
                           text_font="Liberation Serif", text_font_size="28px",
                           text_baseline="alphabetic", text_align="left", text_color="black"))
    return p


BOTTOM_ROWS = [211, 144, 76]
BOTTOM_ROWS_5 = [208, 141, 73]
TOP_ROWS = [797, 729, 661]

p1 = make_panel([U_RED, U_BLUE, CLAMP], "u", 14, BOTTOM_ROWS, 30, 2, 1391, 202, ROW1_H)
p2 = make_panel([V_RED, V_BLUE, CLAMP], "v", 14, BOTTOM_ROWS, 33, 2, 1391, 202, ROW1_H)
p3 = make_panel([W_RED, W_BLUE, CLAMP], "w", 20, BOTTOM_ROWS, 34, 2, 1220, 31, ROW1_H)
p4 = make_panel([CLAMP, CLAMP, CLAMP], "φ", 15, TOP_ROWS, 33, 1, 1391, 202, ROW2_H)
p5 = make_panel([R_RED, R_BLUE, CLAMP], "r", 10, BOTTOM_ROWS_5, 33, 2, 1391, 202, ROW2_H)

# caption strip: no title, no axes, so its frame fills the whole strip
cap = figure(width=4002, height=CAP_H, x_range=Range1d(0, 1), y_range=Range1d(0, 1),
             output_backend="svg", toolbar_location=None, title=None,
             min_border=0, min_border_left=0, min_border_right=0,
             min_border_top=0, min_border_bottom=0,
             x_axis_location=None, y_axis_location=None, outline_line_color=None)
cap.grid.visible = False
cap.add_layout(Label(x=2004, y=44, x_units="screen", y_units="screen",
                     text=CAPTION, text_font="Liberation Serif",
                     text_font_size="79px", text_align="center", text_baseline="alphabetic",
                     text_color="black"))

layout = column(row(p1, p2, p3), row(p4, p5), cap)
open("out.html", "w").write(file_html(layout, INLINE))
